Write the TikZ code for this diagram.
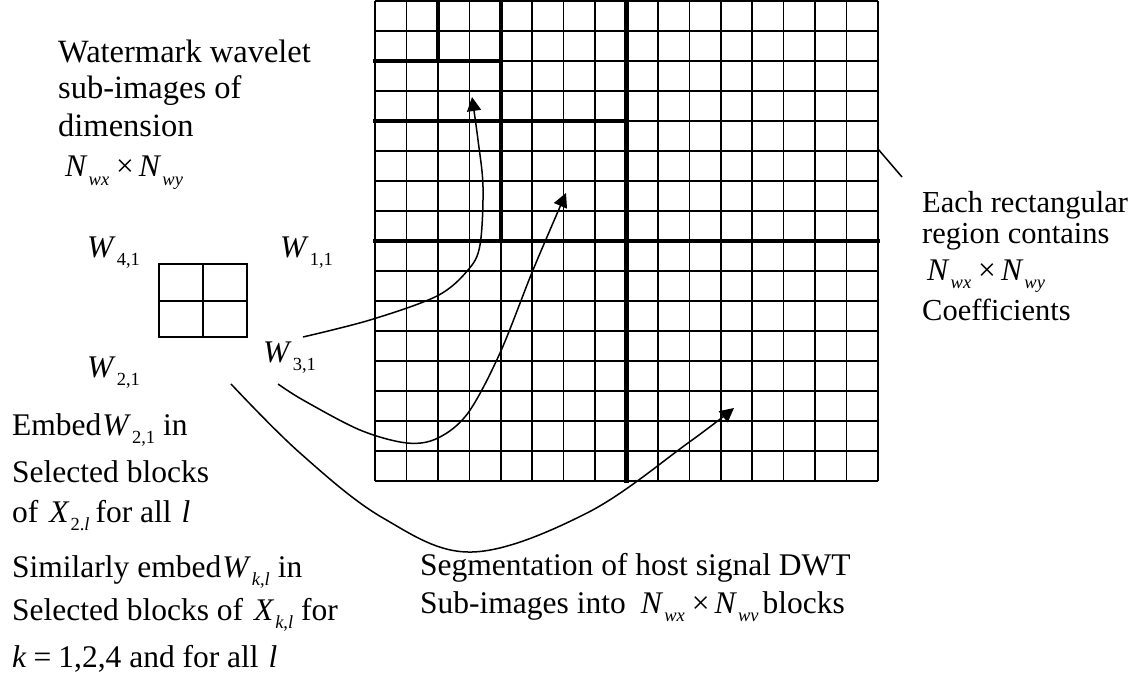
\documentclass[tikz,border=0pt]{standalone}
\usepackage{fontspec}
\setmainfont{Liberation Serif}
\usetikzlibrary{arrows.meta}
\newcommand\sbs[1]{\kern1pt\raisebox{-8.5pt}{\fontsize{18.5}{18.5}\selectfont #1}}
\newcommand\Nxy[1]{\textit{N}\sbs{\textit{wx}}\hspace{7pt}×\hspace{5pt}\textit{N}\sbs{\textit{#1}}}
\begin{document}
\begin{tikzpicture}[x=1pt,y=-1pt,
  txt/.style={anchor=base west,inner sep=0pt,font=\fontsize{31.5}{31.5}\selectfont},
  ltxt/.style={anchor=base west,inner sep=0pt,font=\fontsize{32.5}{32.5}\selectfont},
  rtxt/.style={anchor=base west,inner sep=0pt,font=\fontsize{30.5}{30.5}\selectfont},
  gridthin/.style={line width=1.6pt},
  gridthick/.style={line width=4.2pt,line cap=rect},
  boxline/.style={line width=2pt},
  conn/.style={line width=1.5pt},
  arr/.style={conn,-{Triangle[length=14pt,width=14pt]}}]
\useasboundingbox (0,0) rectangle (1129,687);
% host DWT grid
\foreach \i in {0,...,16} {
  \draw[gridthin] (375+\i*31.4375,1) -- (375+\i*31.4375,481);
  \draw[gridthin] (375,1+\i*30) -- (878,1+\i*30);
}
\draw[gridthick] (437.875,1) -- (437.875,61);
\draw[gridthick] (500.75,1) -- (500.75,241);
\draw[gridthick] (626.5,1) -- (626.5,481);
\draw[gridthick] (375,61) -- (500.75,61);
\draw[gridthick] (375,121) -- (626.5,121);
\draw[gridthick] (375,241) -- (878,241);
% small watermark box
\draw[boxline] (159,264) rectangle (247,337);
\draw[boxline] (203,264) -- (203,337);
\draw[boxline] (159,301) -- (247,301);
% labels
\node[ltxt] (wm1) at (58,63) {Watermark wavelet};
\node[ltxt] (wm2) at (58,99) {sub-images of};
\node[ltxt] (wm3) at (58,137) {dimension};
\node[txt] (wm4) at (65,177) {\Nxy{wy}};
\node[txt] (w41) at (87,257) {\textit{W}\sbs{4,1}};
\node[txt] (w11) at (280,257) {\textit{W}\sbs{1,1}};
\node[txt] (w21) at (87,377) {\textit{W}\sbs{2,1}};
\node[txt] (w31) at (263,362) {\textit{W}\sbs{3,1}};
\node[rtxt] (r1) at (922,212) {Each rectangular};
\node[rtxt] (r2) at (922,243) {region contains};
\node[txt] (r3) at (927,280) {\Nxy{wy}};
\node[rtxt] (r4) at (922,320) {Coefficients};
\node[txt] (s1) at (420,575) {Segmentation of host signal DWT};
\node[txt] (s2) at (420,613) {Sub-images into\hspace{15pt}\Nxy{wv}\hspace{4pt}blocks};
\node[txt] (e1) at (12,435) {Embed\kern1pt\textit{W}\sbs{2,1} in};
\node[txt] (e2) at (12,482) {Selected blocks};
\node[txt] (e3) at (12,522) {of \hspace{3pt}\textit{X}\sbs{2.\textit{l}}\hspace{6pt}for all \hspace{2pt}\textit{l}};
\node[txt] (e4) at (12,577) {Similarly embed\kern1pt\textit{W}\sbs{\textit{k},\textit{l}}\hspace{8pt}in};
\node[txt] (e5) at (12,620) {Selected blocks of \hspace{3pt}\textit{X}\sbs{\textit{k},\textit{l}}\hspace{8pt}for};
\node[txt] (e6) at (12,667) {\textit{k}\hspace{7pt}=\hspace{7pt}1,2,4 and for all \hspace{2pt}\textit{l}};
% connector end points
\coordinate (c1s) at (303,337);
\coordinate (c1e) at (472,97);
\coordinate (c2s) at (278,384);
\coordinate (c2e) at (566,193);
\coordinate (c3s) at (231,384);
\coordinate (c3e) at (734,408);
\coordinate (gedge) at (878,149);
\coordinate (callout) at (902,177);
% connectors
\draw[arr] plot[smooth,tension=0.55] coordinates {(c1s) (370,320) (437,296) (468,270) (480,245) (483,187) (478,140) (c1e)};
\draw[arr] plot[smooth,tension=0.55] coordinates {(c2s) (303,400) (360,430) (407,443) (438,438) (468,413) (500,353) (533,270) (c2e)};
\draw[arr] plot[smooth,tension=0.6] coordinates {(c3s) (300,453) (383,518) (472,552) (587,513) (688,443) (c3e)};
\draw[conn] (gedge) -- (callout);
\end{tikzpicture}
\end{document}
